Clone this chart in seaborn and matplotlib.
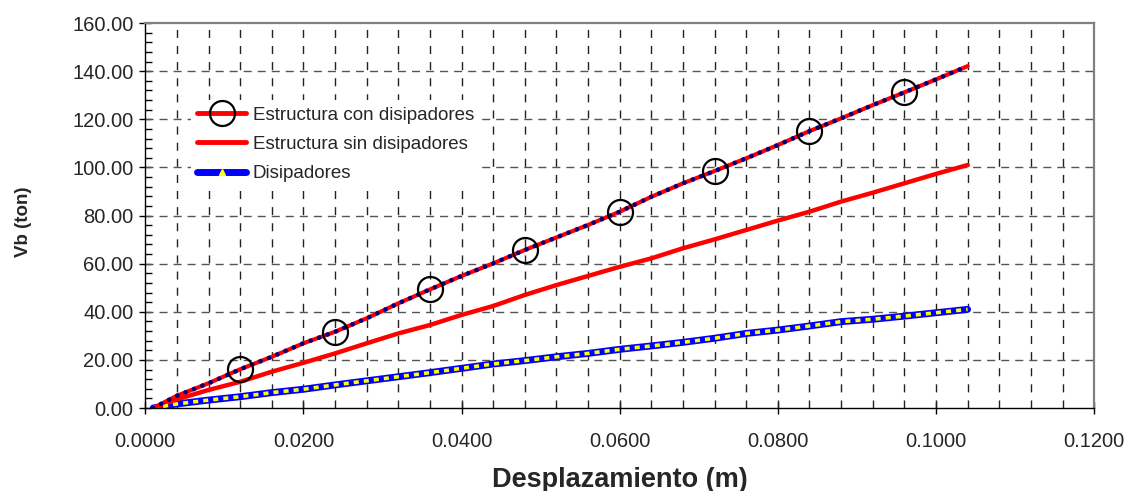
import numpy as np
import pandas as pd
import matplotlib
matplotlib.use("Agg")
import matplotlib.pyplot as plt
import seaborn as sns
from matplotlib.lines import Line2D
from matplotlib.ticker import MultipleLocator, FormatStrFormatter

# Values
desplazamiento = [0.001, 0.004, 0.008, 0.012, 0.016, 0.020, 0.024, 0.028, 0.032,
                  0.036, 0.040, 0.044, 0.048, 0.052, 0.056, 0.060, 0.064, 0.068,
                  0.072, 0.076, 0.080, 0.084, 0.088, 0.092, 0.096, 0.100, 0.104]
con_disipadores = [0.0, 5.1, 10.3, 16.1, 21.3, 26.9, 31.7, 37.3, 43.5,
                   49.3, 54.9, 60.1, 65.7, 70.9, 76.1, 81.6, 87.8, 93.4,
                   98.5, 103.8, 109.3, 115.1, 120.4, 125.9, 131.2, 136.6, 142.1]
sin_disipadores = [0.0, 3.6, 7.5, 10.9, 15.1, 18.8, 22.7, 26.9, 31.0,
                   34.5, 38.7, 42.4, 47.0, 51.1, 54.9, 58.7, 62.2, 66.4,
                   70.1, 74.0, 77.9, 81.6, 85.8, 89.5, 93.4, 97.3, 101.0]
disipadores = [0.0, 1.7, 3.3, 4.7, 6.4, 7.8, 9.6, 11.3, 13.0,
               14.7, 16.5, 18.3, 19.7, 21.3, 22.7, 24.4, 25.8, 27.3,
               29.0, 31.0, 32.4, 34.1, 35.9, 36.9, 38.2, 39.6, 41.0]

labels = ["Estructura con disipadores", "Estructura sin disipadores", "Disipadores"]

df = pd.DataFrame({
    "x": desplazamiento,
    "con": con_disipadores,
    "sin": sin_disipadores,
    "dis": disipadores,
})

sns.set_theme(style="white")
plt.rcParams["font.family"] = ["Liberation Sans", "DejaVu Sans"]

fig, ax = plt.subplots(figsize=(11.35, 4.91), dpi=100)
fig.subplots_adjust(left=0.128, right=0.964, top=0.953, bottom=0.169)

# grid first so the curves sit on top
ax.set_xlim(0, 0.12)
ax.set_ylim(0, 160)
ax.xaxis.set_major_locator(MultipleLocator(0.02))
ax.xaxis.set_minor_locator(MultipleLocator(0.004))
ax.yaxis.set_major_locator(MultipleLocator(20))
ax.yaxis.set_minor_locator(MultipleLocator(4))
ax.xaxis.set_major_formatter(FormatStrFormatter("%.4f"))
ax.yaxis.set_major_formatter(FormatStrFormatter("%.2f"))
ax.grid(False)
for xv in np.arange(0.004, 0.1199, 0.004):
    ax.axvline(xv, color="#222222", lw=1.0, dashes=(5.8, 5.8), zorder=1)
for yv in range(20, 160, 20):
    ax.axhline(yv, color="#555555", lw=1.0, dashes=(5.8, 4.3), zorder=1)

# Disipadores: blue line with yellow marks
sns.lineplot(data=df, x="x", y="dis", ax=ax, color="blue", lw=5,
             solid_capstyle="round", zorder=3, legend=False)
ax.plot(df["x"], df["dis"], color="yellow", lw=2.6, dashes=(1.4, 1.4), zorder=4)

# Estructura sin disipadores
sns.lineplot(data=df, x="x", y="sin", ax=ax, color="red", lw=3.2,
             solid_capstyle="round", zorder=3, legend=False)

# Estructura con disipadores: red line, navy dots, black circles
sns.lineplot(data=df, x="x", y="con", ax=ax, color="red", lw=3.0,
             solid_capstyle="round", zorder=5, legend=False)
ax.plot(df["x"], df["con"], color="#000080", lw=3.4, dashes=(0.01, 1.9),
        dash_capstyle="round", zorder=6)
ax.plot(df["x"], df["con"], ls="none", marker="o", ms=18, mfc="none",
        mec="black", mew=1.6, markevery=slice(3, 25, 3), zorder=7)

# axes styling
for side in ["top", "right"]:
    ax.spines[side].set_color("#808080")
    ax.spines[side].set_linewidth(1.6)
for side in ["left", "bottom"]:
    ax.spines[side].set_color("black")
    ax.spines[side].set_linewidth(1.0)
ax.tick_params(axis="both", which="major", direction="inout", length=9,
               width=1, color="black", labelsize=14.5, pad=4)
ax.tick_params(axis="x", which="major", pad=13)
ax.tick_params(axis="y", which="minor", direction="in", length=5, width=1,
               color="black", left=True)
ax.tick_params(axis="x", which="minor", direction="in", length=0)
ax.tick_params(axis="y", which="major", left=True)
ax.tick_params(axis="x", which="major", bottom=True)

ax.set_xlabel("Desplazamiento (m)", fontsize=19.5, fontweight="bold", labelpad=11)
ax.set_ylabel("Vb (ton)", fontsize=13.5, fontweight="bold")
ax.yaxis.set_label_coords(-0.119, 0.483)

handles = [
    Line2D([], [], color="red", lw=3.5, marker="o", ms=18, mfc="none",
           mec="black", mew=1.6),
    Line2D([], [], color="red", lw=3.5),
    Line2D([], [], color="blue", lw=5, marker="^", ms=5, mfc="yellow",
           mec="yellow"),
]
leg = ax.legend(handles, labels, loc="upper left", bbox_to_anchor=(0.038, 0.825),
                frameon=True, facecolor="white", edgecolor="none", framealpha=1,
                fancybox=False, fontsize=13.5, handlelength=2.6,
                handletextpad=0.35, labelspacing=0.65, borderpad=0.35)
leg.set_zorder(10)

fig.savefig("out.png", dpi=100)
